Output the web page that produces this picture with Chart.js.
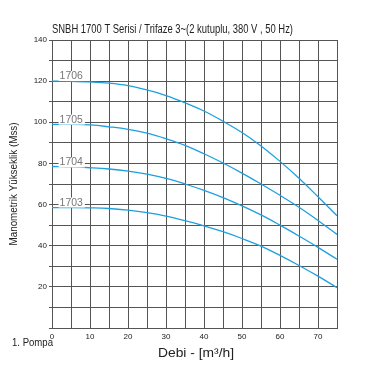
<!DOCTYPE html>
<html><head><meta charset="utf-8">
<script src="https://cdn.jsdelivr.net/npm/chart.js@4/dist/chart.umd.min.js"></script>
<style>html,body{margin:0;padding:0;background:#fff;}#wrap{width:368px;height:389px;}</style>
</head><body><div id="wrap"><canvas id="c" width="368" height="389"></canvas></div>
<script>
const flow = [0,5,10,15,20,25,30,35,40,45,50,55,60,65,70,75];
const h1706 = [120,119.9,119.6,119,117.8,115.7,113,109.5,105.5,100.5,95,88.5,81,72.8,63.8,54.6];
const h1705 = [99,99,98.7,97.8,96.6,94.7,92,88.8,84.7,80.2,75.3,70,64.5,58.7,52.3,45.5];
const h1704 = [78.5,78.3,77.9,77.3,76.3,74.8,72.7,70,66.9,63.4,59.4,55,50,44.7,39.2,33.4];
const h1703 = [58.5,58.5,58.4,58.1,57.3,56.1,54.4,52.2,49.7,46.8,43.5,39.8,35.3,30.4,25.2,19.6];
const seriesNames = ['1706','1705','1704','1703'];
const labelY = [122.5,101.3,80.5,61];
const xTickLabels = [0,10,20,30,40,50,60,70];
const yTickLabels = [20,40,60,80,100,120,140];
const titleText = 'SNBH 1700 T Serisi / Trifaze 3~(2 kutuplu, 380 V , 50 Hz)';
const xTitle = 'Debi - [m³/h]';
const yTitle = 'Manometrik Yükseklik (Mss)';
const footText = '1. Pompa';

const FONT = '"Liberation Sans", Arial, sans-serif';
const BLUE = '#1d9fe0';
const allSeries = [h1706,h1705,h1704,h1703];

function fitText(ctx, text, x, y, w, size, color, align) {
  ctx.save();
  ctx.font = size + 'px ' + FONT;
  ctx.fillStyle = color;
  ctx.textBaseline = 'middle';
  const mw = ctx.measureText(text).width;
  const s = w / mw;
  ctx.translate(x, y);
  ctx.scale(s, 1);
  ctx.textAlign = align || 'left';
  ctx.fillText(text, 0, 0);
  ctx.restore();
}

const textPlugin = {
  id: 'texts',
  afterDatasetsDraw(chart) {
    const ctx = chart.ctx;
    const xs = chart.scales.x, ys = chart.scales.y;
    seriesNames.forEach((n, i) => {
      const px = xs.getPixelForValue(2);
      const py = ys.getPixelForValue(labelY[i]);
      ctx.save();
      ctx.font = '11px ' + FONT;
      const w = ctx.measureText(n).width * 0.95;
      ctx.fillStyle = '#fff';
      ctx.fillRect(px - 1, py - 5, w + 3, 10);
      ctx.restore();
      fitText(ctx, n, px, py, w, 11, '#777', 'left');
    });
  },
  afterDraw(chart) {
    const ctx = chart.ctx;
    fitText(ctx, titleText, 52, 30, 241, 12, '#222', 'left');
    fitText(ctx, xTitle, 158, 353, 76, 13, '#222', 'left');
    fitText(ctx, footText, 12, 343, 41, 11, '#222', 'left');
    ctx.save();
    ctx.translate(14, 184);
    ctx.rotate(-Math.PI / 2);
    fitText(ctx, yTitle, 0, 0, 123, 10.5, '#222', 'center');
    ctx.restore();
  }
};

new Chart(document.getElementById('c'), {
  type: 'line',
  data: {
    datasets: allSeries.map((s, i) => ({
      label: seriesNames[i],
      data: flow.map((f, j) => ({x: f, y: s[j]})),
      borderColor: BLUE,
      borderWidth: 1.3,
      pointRadius: 0,
      fill: false,
      tension: 0.4
    }))
  },
  options: {
    responsive: false,
    animation: false,
    devicePixelRatio: 1,
    layout: {padding: {left: 0, top: 40, right: 31, bottom: 41}},
    plugins: {legend: {display: false}, tooltip: {enabled: false}, title: {display: false}},
    scales: {
      x: {
        type: 'linear', min: 0, max: 75,
        afterFit(s) { s.height = 20; },
        grid: {color: '#555', lineWidth: 1, tickLength: 0, drawTicks: false},
        border: {color: '#555', width: 1},
        ticks: {
          stepSize: 5, autoSkip: false, maxRotation: 0, padding: 4,
          color: '#222', font: {family: FONT, size: 8},
          callback: v => xTickLabels.includes(v) ? String(v) : ''
        }
      },
      y: {
        min: 0, max: 140,
        afterFit(s) { s.width = 52; },
        grid: {color: '#555', lineWidth: 1, tickLength: 3},
        border: {color: '#555', width: 1},
        ticks: {
          stepSize: 10, autoSkip: false, padding: 2,
          color: '#222', font: {family: FONT, size: 8},
          callback: v => yTickLabels.includes(v) ? String(v) : ''
        }
      }
    }
  },
  plugins: [textPlugin]
});
</script></body></html>
